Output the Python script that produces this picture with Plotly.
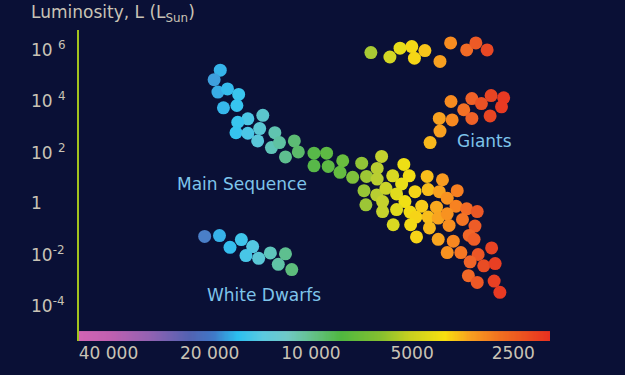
import numpy as np
import plotly.graph_objects as go

# ---------------- data (temperature in K, luminosity in L_sun) ----------------
ms_temp = [18600, 19400, 18900, 17700, 16400, 18200, 16600, 13900, 15400, 16500,
           16700, 15400, 14200, 12800, 14400, 13100, 12400, 11200, 10900, 11900,
           9790, 8980, 9790, 8880, 8040, 8190, 7510, 7060, 6160, 6830,
           6350, 6350, 5710, 5290, 5100, 5370, 6950, 6370, 5980, 5560,
           4900, 4510, 4060, 4480, 4150, 3930, 3670, 6860, 6120, 5250,
           4680, 4230, 3700, 3440, 3200, 6120, 5560, 5070, 4870, 4480,
           4180, 3930, 3540, 5690, 5050, 4440, 3880, 3250, 3380, 4850,
           4180, 3770, 3270, 3930, 3580, 3180, 2900, 3360, 3060, 2830,
           3400, 3200, 2850, 2740]
ms_lum = [1.5e5, 6.4e4, 2.1e4, 2.8e4, 1.7e4, 5.1e3, 6.3e3, 2.6e3, 1.9e3, 1.4e3,
          550, 520, 790, 550, 260, 144, 225, 260, 97, 62,
          87, 87, 28, 26.5, 44, 15.5, 9.9, 35.5, 65, 10.8,
          22, 8.5, 11.4, 31.6, 11.4, 5.45, 3.0, 2.04, 3.7, 2.23,
          2.74, 10.8, 8.0, 3.3, 2.74, 1.52, 3.0, 0.84, 1.12, 1.12,
          0.745, 0.68, 0.745, 0.585, 0.46, 0.46, 0.55, 0.436, 0.279, 0.279,
          0.255, 0.375, 0.225, 0.14, 0.14, 0.105, 0.132, 0.125, 0.054, 0.047,
          0.038, 0.032, 0.038, 0.0115, 0.0115, 0.0097, 0.0175, 0.005, 0.0035, 0.0043,
          0.00144, 0.00079, 0.00089, 0.000325]

sg_temp = [6630, 5820, 5430, 5010, 4920, 4580, 4130, 3840, 3440, 3230, 2990]
sg_lum = [7.3e5, 4.9e5, 1.08e6, 1.25e6, 4.4e5, 8.7e5, 3.3e5, 1.74e6, 9.3e5, 1.74e6, 9.3e5]

giant_temp = [3830, 3320, 3110, 2910, 2670, 2710, 3510, 3320, 2930, 4150, 3800, 4130, 4420]
giant_lum = [9.0e3, 1.17e4, 7.5e3, 1.53e4, 1.25e4, 5.6e3, 4.3e3, 1.97e3, 2.46e3, 1.97e3, 1.72e3, 634, 225]

wd_temp = [20700, 18700, 17400, 16100, 14900, 15600, 14300, 13200, 11900, 12500, 11400]
wd_lum = [0.049, 0.053, 0.0185, 0.037, 0.0197, 0.0088, 0.0069, 0.0112, 0.0103, 0.0040, 0.0025]

x_tick_vals = [40000, 20000, 10000, 5000, 2500]
x_tick_text = ["40 000", "20 000", "10 000", "5000", "2500"]
y_tick_vals = [1e6, 1e4, 1e2, 1, 1e-2, 1e-4]
y_tick_text = ["10 <sup>6</sup>", "10 <sup>4</sup>", "10 <sup>2</sup>", "1",
               "10<sup>-2</sup>", "10<sup>-4</sup>"]

group_labels = ["Supergiants", "Giants", "Main Sequence", "White Dwarfs"]
label_temp = [4870, 3035, 16070, 13800]
label_lum = [1.6e7, 2.5e2, 5.5, 2.5e-4]

title_text = "Luminosity, L (L<sub>Sun</sub>)"

# ---------------- style ----------------
BG = "#0a1036"
TXT = "#c9c3b5"
LBL = "#7ec4ea"
AXIS = "#a2c21e"
FONT = "DejaVu Sans"

T_LEFT, T_RIGHT = 48950, 1944
lo, hi = np.log10(T_RIGHT), np.log10(T_LEFT)

point_stops = [(48950, '#5a5fb0'), (20700, '#4a7fc8'), (18600, '#36b4ea'), (16800, '#34c4f0'),
               (14700, '#58c8e0'), (12800, '#60c4b0'), (11100, '#5cba70'), (9750, '#58b848'),
               (8190, '#64bc40'), (7150, '#8cc238'), (6230, '#c0d030'), (5250, '#f0e014'),
               (4730, '#f8d018'), (4130, '#f8a020'), (3730, '#f88420'), (3360, '#f06428'),
               (3030, '#e84a24'), (2740, '#e83a22'), (1944, '#e83020')]
strip_stops = [(48950, '#d264b4'), (39600, '#c060b0'), (30300, '#9462b2'), (23100, '#5462b2'),
               (19500, '#4078c8'), (16500, '#2cc0f0'), (13900, '#5ccae0'), (11800, '#70c8c8'),
               (9630, '#62c080'), (8130, '#50b840'), (6230, '#84c030'), (5070, '#c8d020'),
               (4000, '#f8e010'), (3360, '#f8a020'), (2740, '#f07020'), (1944, '#e83020')]


def make_scale(stops):
    sc = []
    for t, c in stops:
        p = (np.log10(t) - lo) / (hi - lo)
        sc.append([float(min(max(round(p, 6), 0.0), 1.0)), c])
    sc.sort(key=lambda s: s[0])
    sc[0][0] = 0.0
    sc[-1][0] = 1.0
    return sc


point_scale = make_scale(point_stops)
strip_scale = make_scale(strip_stops)

fig = go.Figure()

for temps, lums in [(ms_temp, ms_lum), (sg_temp, sg_lum), (giant_temp, giant_lum), (wd_temp, wd_lum)]:
    fig.add_trace(go.Scatter(
        x=temps, y=lums, mode="markers", xaxis="x", yaxis="y",
        marker=dict(size=13, color=np.log10(temps), colorscale=point_scale,
                    cmin=lo, cmax=hi, line=dict(width=0), opacity=1),
        showlegend=False, hoverinfo="skip"))

# colour strip along the temperature axis
strip_t = np.logspace(np.log10(T_LEFT * 1.05), np.log10(T_RIGHT / 1.05), 400)
fig.add_trace(go.Heatmap(
    x=strip_t, y=[0.5], z=[np.log10(strip_t)], colorscale=strip_scale,
    zmin=lo, zmax=hi, showscale=False, xaxis="x", yaxis="y2", hoverinfo="skip"))

annotations = []
for lab, t, l in zip(group_labels, label_temp, label_lum):
    annotations.append(dict(x=np.log10(t), y=np.log10(l), xref="x", yref="y", text=lab,
                            showarrow=False, font=dict(size=17, color=LBL, family=FONT),
                            xanchor="center", yanchor="middle"))
for v, txt in zip(y_tick_vals, y_tick_text):
    annotations.append(dict(x=-0.106, y=np.log10(v), xref="paper", yref="y", text=txt,
                            showarrow=False, font=dict(size=17, color=TXT, family=FONT),
                            xanchor="left", yanchor="middle"))
annotations.append(dict(x=-0.106, y=1.0958, xref="paper", yref="paper", text=title_text,
                        showarrow=False, font=dict(size=17, color=TXT, family=FONT),
                        xanchor="left", yanchor="top"))

fig.update_layout(
    width=625, height=375,
    margin=dict(l=79, r=75, t=30, b=32),
    paper_bgcolor=BG, plot_bgcolor=BG,
    font=dict(family=FONT, color=TXT, size=17),
    hovermode=False,
    xaxis=dict(type="log", range=[hi, lo], tickvals=x_tick_vals, ticktext=x_tick_text,
               showgrid=False, zeroline=False, showline=False, ticks="",
               tickfont=dict(size=17, color=TXT, family=FONT), anchor="y"),
    yaxis=dict(type="log", domain=[0, 1], range=[-5.388, 6.744], showgrid=False,
               zeroline=False, showticklabels=False, ticks="", showline=True,
               linecolor=AXIS, linewidth=2),
    yaxis2=dict(domain=[0, 10 / 313], range=[0, 1], visible=False, anchor="x"),
    annotations=annotations,
)

fig.write_html("out.html", config={"displayModeBar": False},
               post_script="document.body.style.margin='0';document.body.style.background='" + BG + "';")
